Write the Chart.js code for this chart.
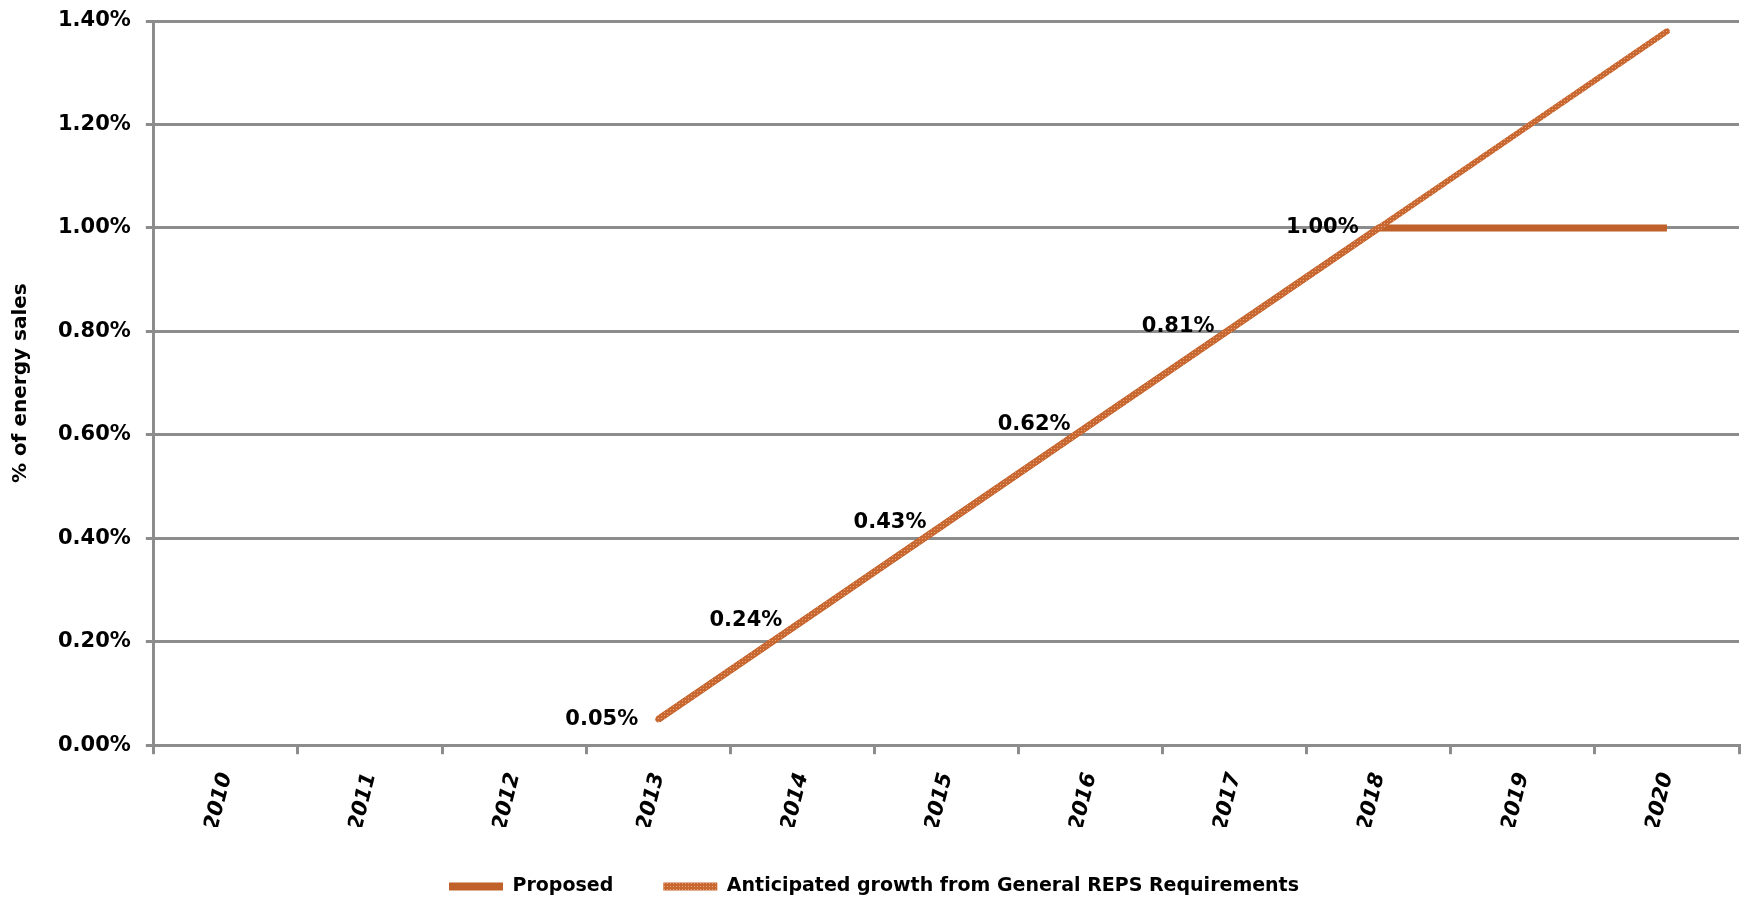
<!DOCTYPE html>
<html>
<head>
<meta charset="utf-8">
<script src="https://cdn.jsdelivr.net/npm/chart.js@4.4.0/dist/chart.umd.min.js"></script>
<style>
  html, body { margin: 0; padding: 0; background: #fff; }
  #wrap { width: 1744px; height: 900px; }
</style>
</head>
<body>
<div id="wrap"><canvas id="chart"></canvas></div>
<script>
// data
var years = ["2010", "2011", "2012", "2013", "2014", "2015", "2016", "2017", "2018", "2019", "2020"];
var proposed = [null, null, null, 0.05, 0.24, 0.43, 0.62, 0.81, 1.00, 1.00, 1.00];
var anticipated = [null, null, null, 0.05, 0.24, 0.43, 0.62, 0.81, 1.00, 1.19, 1.38];
var labelYears = ["2013", "2014", "2015", "2016", "2017", "2018"];

var gray = "#8c8c8c";
var orange = "#c0602a";
var font = "'DejaVu Sans', sans-serif";

// textured stroke for the anticipated line
var pc = document.createElement("canvas");
pc.width = 3;
pc.height = 3;
var pctx = pc.getContext("2d");
pctx.fillStyle = "#c8672f";
pctx.fillRect(0, 0, 3, 3);
pctx.fillStyle = "#e6a47c";
pctx.fillRect(1, 1, 1, 1);
var texture = pctx.createPattern(pc, "repeat");

var pointLabels = {
    id: "pointLabels",
    afterDatasetsDraw: function (chart) {
        var ctx = chart.ctx;
        var meta = chart.getDatasetMeta(1);
        ctx.save();
        ctx.font = "bold 21px " + font;
        ctx.fillStyle = "#000";
        ctx.textAlign = "right";
        ctx.textBaseline = "middle";
        labelYears.forEach(function (y) {
            var i = years.indexOf(y);
            var pt = meta.data[i];
            ctx.fillText(proposed[i].toFixed(2) + "%", pt.x - 20, pt.y);
        });
        ctx.restore();
    }
};

new Chart(document.getElementById("chart"), {
    type: "line",
    data: {
        labels: years,
        datasets: [
            {
                label: "Anticipated growth from General REPS Requirements",
                data: anticipated,
                borderColor: texture,
                backgroundColor: texture,
                borderWidth: 6,
                borderCapStyle: "round",
                pointRadius: 0,
                tension: 0
            },
            {
                label: "Proposed",
                data: proposed,
                borderColor: orange,
                backgroundColor: orange,
                borderWidth: 7,
                pointRadius: 0,
                tension: 0
            }
        ]
    },
    options: {
        responsive: true,
        maintainAspectRatio: false,
        animation: false,
        layout: { padding: { top: 0, right: 5, left: 9, bottom: -6 } },
        plugins: {
            tooltip: { enabled: false },
            legend: {
                position: "bottom",
                reverse: true,
                labels: {
                    color: "#000",
                    font: { family: font, size: 19, weight: "bold" },
                    boxWidth: 54,
                    boxHeight: 8,
                    padding: 50,
                    generateLabels: function (chart) {
                        var items = Chart.defaults.plugins.legend.labels.generateLabels(chart);
                        items.forEach(function (it) { it.lineWidth = 0; });
                        return items;
                    }
                }
            }
        },
        scales: {
            x: {
                offset: true,
                grid: {
                    offset: true,
                    drawOnChartArea: false,
                    color: gray,
                    lineWidth: 3,
                    tickLength: 9
                },
                border: { color: gray, width: 3 },
                ticks: {
                    color: "#000",
                    font: { family: font, size: 21, weight: "bold", style: "italic" },
                    minRotation: 76,
                    maxRotation: 76,
                    padding: 16
                },
                // let the year labels run into the legend's empty top padding
                afterFit: function (scale) { scale.height -= 22; }
            },
            y: {
                min: 0,
                max: 1.4,
                ticks: {
                    stepSize: 0.2,
                    color: "#000",
                    font: { family: font, size: 21, weight: "bold" },
                    padding: 15,
                    callback: function (v) { return v.toFixed(2) + "%"; }
                },
                grid: { color: gray, lineWidth: 3, tickLength: 8 },
                border: { color: gray, width: 3 },
                title: {
                    display: true,
                    text: "% of energy sales",
                    color: "#000",
                    font: { family: font, size: 20, weight: "bold" },
                    padding: { top: 0, bottom: 10 }
                },
                // tick padding would otherwise push the top gridline down
                afterFit: function (scale) { scale.paddingTop = 21; }
            }
        }
    },
    plugins: [pointLabels]
});
</script>
</body>
</html>
